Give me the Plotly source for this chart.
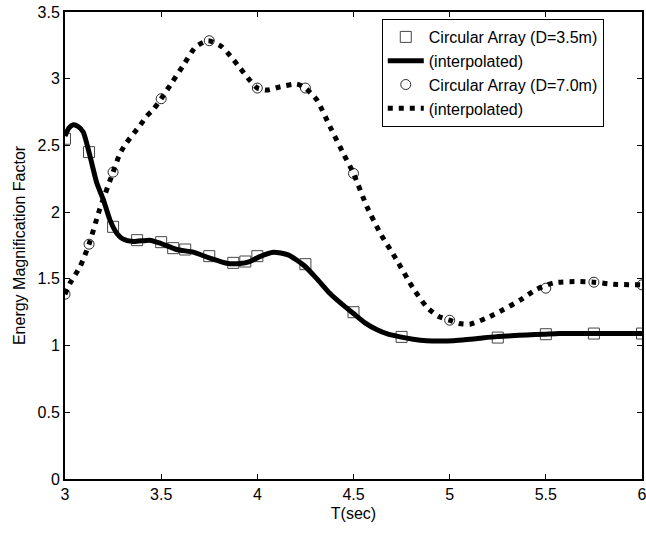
import plotly.graph_objects as go

# Circular Array D=3.5m (markers)
sq_T = [3.0, 3.125, 3.25, 3.375, 3.5, 3.5625, 3.625, 3.75, 3.875, 3.9375, 4.0, 4.25, 4.5, 4.75, 5.25, 5.5, 5.75, 6.0]
sq_E = [2.55, 2.45, 1.89, 1.79, 1.775, 1.73, 1.72, 1.67, 1.62, 1.63, 1.67, 1.61, 1.25, 1.065, 1.06, 1.085, 1.09, 1.09]

# interpolated curve for D=3.5m
sol_T = [3.0, 3.02, 3.043, 3.07, 3.095, 3.13, 3.165, 3.2, 3.234, 3.27, 3.30, 3.355, 3.44, 3.49, 3.58, 3.667,
         3.754, 3.84, 3.91, 3.96, 4.01, 4.083, 4.16, 4.243, 4.31, 4.378, 4.44, 4.5, 4.56, 4.62, 4.68, 4.742,
         4.81, 4.88, 4.95, 5.02, 5.09, 5.158, 5.245, 5.32, 5.40, 5.49, 5.57, 5.7, 5.85, 6.0]
sol_E = [2.57, 2.63, 2.655, 2.64, 2.60, 2.42, 2.22, 2.09, 1.94, 1.84, 1.80, 1.78, 1.79, 1.77, 1.72, 1.70,
         1.655, 1.617, 1.615, 1.63, 1.665, 1.70, 1.68, 1.60, 1.50, 1.39, 1.31, 1.24, 1.17, 1.12, 1.085, 1.065,
         1.048, 1.037, 1.035, 1.037, 1.045, 1.055, 1.067, 1.073, 1.08, 1.085, 1.09, 1.09, 1.09, 1.09]

# Circular Array D=7.0m (markers)
ci_T = [3.0, 3.125, 3.25, 3.5, 3.75, 4.0, 4.25, 4.5, 5.0, 5.5, 5.75, 6.0]
ci_E = [1.385, 1.76, 2.30, 2.85, 3.285, 2.93, 2.93, 2.29, 1.19, 1.43, 1.475, 1.455]

# interpolated curve for D=7.0m
dot_T = [3.0, 3.026, 3.078, 3.125, 3.18, 3.25, 3.286, 3.32, 3.39, 3.425, 3.46, 3.5, 3.56, 3.615, 3.68, 3.745,
         3.815, 3.86, 3.91, 3.96, 4.0, 4.05, 4.12, 4.205, 4.25, 4.31, 4.378, 4.447, 4.5, 4.57, 4.64, 4.725,
         4.81, 4.88, 4.94, 5.0, 5.05, 5.105, 5.19, 5.28, 5.366, 5.45, 5.54, 5.66, 5.75, 5.85, 6.0]
dot_E = [1.385, 1.467, 1.59, 1.76, 2.02, 2.30, 2.44, 2.52, 2.65, 2.72, 2.77, 2.85, 2.98, 3.10, 3.24, 3.285,
         3.24, 3.17, 3.08, 2.99, 2.93, 2.915, 2.94, 2.96, 2.93, 2.84, 2.64, 2.44, 2.29, 2.04, 1.84, 1.64,
         1.43, 1.29, 1.22, 1.19, 1.165, 1.16, 1.205, 1.27, 1.34, 1.42, 1.47, 1.48, 1.475, 1.46, 1.455]

FONT = "Liberation Sans, Arial, sans-serif"

fig = go.Figure()
fig.add_trace(go.Scatter(x=sq_T, y=sq_E, mode="markers", name="Circular Array (D=3.5m)",
                         marker=dict(symbol="square-open", size=11, color="rgb(70,70,70)", line=dict(width=1))))
fig.add_trace(go.Scatter(x=sol_T, y=sol_E, mode="lines", name="(interpolated)",
                         line=dict(color="black", width=5, shape="spline", smoothing=0.6)))
fig.add_trace(go.Scatter(x=ci_T, y=ci_E, mode="markers", name="Circular Array (D=7.0m)",
                         marker=dict(symbol="circle-open", size=10, color="rgb(40,40,40)", line=dict(width=1))))
fig.add_trace(go.Scatter(x=dot_T, y=dot_E, mode="lines", name="(interpolated)",
                         line=dict(color="black", width=5, dash="5px,6px", shape="spline", smoothing=0.6)))

fig.update_layout(
    width=646, height=534,
    margin=dict(l=65, r=4, t=12, b=55, autoexpand=False),
    paper_bgcolor="white", plot_bgcolor="white",
    font=dict(family=FONT, size=15, color="black"),
    showlegend=True,
    legend=dict(x=0.549, y=0.985, xanchor="left", yanchor="top",
                bordercolor="black", borderwidth=1, bgcolor="white",
                itemwidth=36,
                font=dict(size=16, family=FONT), tracegroupgap=0),
    xaxis=dict(range=[3, 6], dtick=0.5, tick0=3, showgrid=False, zeroline=False, automargin=False,
               ticklabeloverflow="allow",
               showline=True, linecolor="black", linewidth=2, mirror="ticks",
               ticks="inside", ticklen=5, tickwidth=1, tickcolor="black",
               tickfont=dict(size=16, family=FONT),
               title=dict(text="T(sec)", font=dict(size=16, family=FONT), standoff=6)),
    yaxis=dict(range=[0, 3.5], dtick=0.5, tick0=0, showgrid=False, zeroline=False, automargin=False,
               ticklabeloverflow="allow",
               showline=True, linecolor="black", linewidth=2, mirror="ticks",
               ticks="inside", ticklen=5, tickwidth=1, tickcolor="black",
               tickfont=dict(size=16, family=FONT),
               title=dict(text="Energy Magnification Factor", font=dict(size=16, family=FONT), standoff=8)),
)

fig.write_html("out.html")
